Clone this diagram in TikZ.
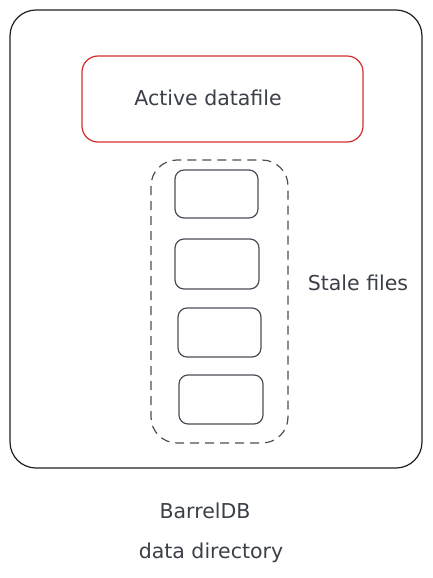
\documentclass[tikz,border=0pt]{standalone}
\usepackage{fontspec}
\setmainfont{DejaVu Sans}
\definecolor{ink}{HTML}{1E1E1E}
\definecolor{redink}{HTML}{D32F2F}
\definecolor{grayink}{HTML}{4A4F57}
\definecolor{textink}{HTML}{3B3F48}
\begin{document}
\begin{tikzpicture}[x=1pt,y=-1pt,
  outerbox/.style={draw=ink,line width=1.2pt,rounded corners=26pt},
  activebox/.style={draw=redink,line width=1.2pt,rounded corners=16pt},
  stalegroup/.style={draw=grayink,line width=1.2pt,dash pattern=on 9pt off 6pt,rounded corners=26pt},
  filebox/.style={draw=grayink,line width=1.2pt,rounded corners=9pt},
  label/.style={text=textink,font=\fontsize{20.5}{23}\selectfont,inner sep=0pt}]
\useasboundingbox (0,0) rectangle (432,578);
\draw[outerbox] (10,10) rectangle (422,468);
\draw[activebox] (82,56) rectangle (363,142);
\node[label] (active) at (208,98) {Active datafile};
\draw[stalegroup] (151,160) rectangle (288,443);
\draw[filebox] (175,170) rectangle (258,218);
\draw[filebox] (175,239) rectangle (259,289);
\draw[filebox] (178,308) rectangle (261,357);
\draw[filebox] (179,375) rectangle (263,424);
\node[label] (stale) at (358,283) {Stale files};
\node[label] (barrel) at (205,511) {BarrelDB};
\node[label] (datadir) at (211,553) {data directory};
\end{tikzpicture}
\end{document}
